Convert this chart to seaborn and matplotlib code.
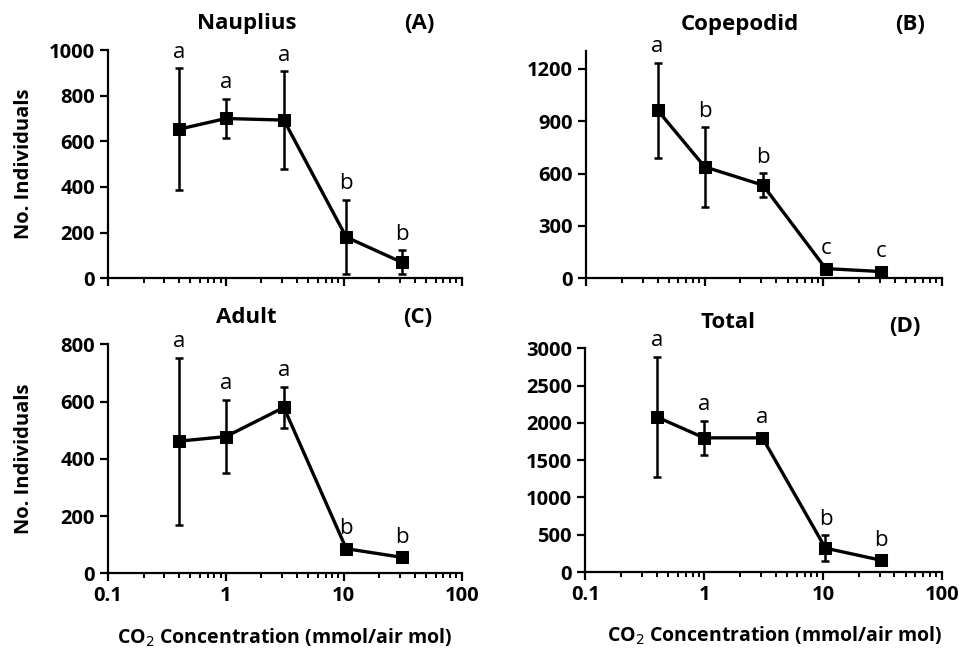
import numpy as np
import pandas as pd
import seaborn as sns
import matplotlib.pyplot as plt
from matplotlib.ticker import FixedLocator, LogLocator, NullFormatter

# CO2 levels (mmol/air mol)
co2 = [0.4, 1.0, 3.1, 10.5, 31]

nauplius_mean = [653, 700, 693, 180, 70]
nauplius_err = [267, 87, 213, 163, 53]
nauplius_letters = ['a', 'a', 'a', 'b', 'b']

copepodid_mean = [963, 638, 533, 55, 38]
copepodid_err = [272, 228, 68, 0, 0]
copepodid_letters = ['a', 'b', 'b', 'c', 'c']

adult_mean = [462, 478, 580, 86, 56]
adult_err = [292, 128, 72, 0, 0]
adult_letters = ['a', 'a', 'a', 'b', 'b']

total_mean = [2080, 1800, 1800, 320, 157]
total_err = [810, 228, 0, 172, 0]
total_letters = ['a', 'a', 'a', 'b', 'b']

panels = [
    ('Nauplius', '(A)', nauplius_mean, nauplius_err, nauplius_letters, [0, 1000], range(0, 1001, 200)),
    ('Copepodid', '(B)', copepodid_mean, copepodid_err, copepodid_letters, [0, 1300], range(0, 1201, 300)),
    ('Adult', '(C)', adult_mean, adult_err, adult_letters, [0, 800], range(0, 801, 200)),
    ('Total', '(D)', total_mean, total_err, total_letters, [0, 3000], range(0, 3001, 500)),
]

sns.set_style("ticks")
plt.rcParams['font.family'] = ['Open Sans', 'DejaVu Sans']
plt.rcParams.update({'text.color': 'black', 'axes.labelcolor': 'black',
                     'xtick.color': 'black', 'ytick.color': 'black'})

fig = plt.figure(figsize=(9.61, 6.5), dpi=100)
rects = [
    [0.1124, 0.572, 0.368, 0.351],
    [0.610, 0.572, 0.370, 0.349],
    [0.1124, 0.118, 0.368, 0.352],
    [0.609, 0.120, 0.371, 0.344],
]
title_x = [0.393, 0.433, 0.39, 0.40]
tag_x = [0.88, 0.91, 0.876, 0.897]

for i, (name, tag, mean, err, letters, ylim, yticks) in enumerate(panels):
    ax = fig.add_axes(rects[i])
    df = pd.DataFrame({'CO2': co2, 'N': mean})
    sns.lineplot(data=df, x='CO2', y='N', ax=ax, color='black', lw=2.4,
                 marker='s', markersize=9, markeredgecolor='black', zorder=3)
    ax.errorbar(co2, mean, yerr=err, fmt='none', ecolor='black', elinewidth=1.8,
                capsize=3, capthick=1.8, zorder=2)
    for x, m, e, lab in zip(co2, mean, err, letters):
        ax.annotate(lab, xy=(x, m + e), xytext=(0, 4 if e else 7), textcoords='offset points',
                    ha='center', va='bottom', fontsize=16, annotation_clip=False)

    ax.set_xscale('log')
    ax.set_xlim(0.1, 100)
    ax.set_ylim(*ylim)
    ax.yaxis.set_major_locator(FixedLocator(list(yticks)))
    ax.xaxis.set_major_locator(FixedLocator([0.1, 1, 10, 100]))
    ax.xaxis.set_minor_locator(LogLocator(base=10, subs=np.arange(2, 10)))
    ax.xaxis.set_minor_formatter(NullFormatter())
    if i < 2:
        ax.set_xticklabels([])
        ax.set_xlabel('')
    else:
        ax.set_xticklabels(['0.1', '1', '10', '100'])
        ax.set_xlabel('CO$_2$ Concentration (mmol/air mol)', fontsize=14, fontweight='bold')
        ax.xaxis.set_label_coords(0.5 if i == 2 else 0.53, -0.235)
    if i % 2 == 0:
        ax.set_ylabel('No. Individuals', fontsize=14.5, fontweight='bold')
        ax.yaxis.set_label_coords(-0.21, 0.5)
    else:
        ax.set_ylabel('')
    ax.tick_params(axis='both', which='major', direction='out', length=6, width=1.6,
                   labelsize=14.5, color='black')
    ax.tick_params(axis='x', which='minor', direction='out', length=3.5, width=1.4)
    for lbl in ax.get_xticklabels() + ax.get_yticklabels():
        lbl.set_fontweight('bold')
    for s in ['left', 'bottom']:
        ax.spines[s].set_linewidth(1.6)
        ax.spines[s].set_color('black')
    sns.despine(ax=ax)

    ax.text(title_x[i], 1.118, name, transform=ax.transAxes, ha='center', va='center',
            fontsize=16, fontweight='bold')
    ax.text(tag_x[i], 1.118 if i != 3 else 1.10, tag, transform=ax.transAxes, ha='center',
            va='center', fontsize=16, fontweight='bold')

plt.savefig('out.png', dpi=100)
